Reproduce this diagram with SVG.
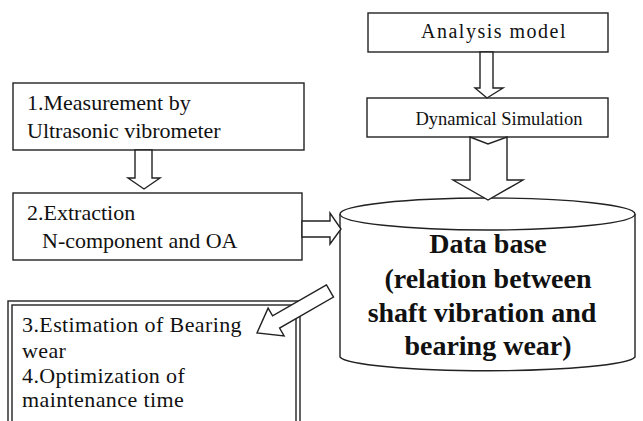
<svg xmlns="http://www.w3.org/2000/svg" width="643" height="421" viewBox="0 0 643 421">
  <style>
    .box { fill: #fff; stroke: #222; stroke-width: 1.4; }
    .arrow { fill: #fff; stroke: #222; stroke-width: 1.4; stroke-linejoin: miter; }
    .t { font-family: "Liberation Serif", "DejaVu Serif", serif; fill: #111; }
    .t22 { font-size: 22px; }
    .big { font-size: 28px; font-weight: bold; text-anchor: middle; }
  </style>
  <rect width="643" height="421" fill="#fff"/>

  <!-- step 1 -->
  <g id="measurement">
    <rect class="box" x="13" y="83" width="291" height="67"/>
    <text class="t t22" x="27" y="110">1.Measurement by</text>
    <text class="t t22" x="27" y="138">Ultrasonic vibrometer</text>
  </g>

  <!-- step 2 -->
  <g id="extraction">
    <rect class="box" x="13" y="193" width="289" height="67"/>
    <text class="t t22" x="27" y="220">2.Extraction</text>
    <text class="t t22" x="42" y="248">N-component and OA</text>
  </g>

  <!-- analysis model -->
  <g id="analysis-model">
    <rect class="box" x="368" y="13" width="240" height="39"/>
    <text class="t" font-size="20" letter-spacing="1.5" x="494" y="38" text-anchor="middle">Analysis model</text>
  </g>

  <!-- dynamical simulation -->
  <g id="dynamical-simulation">
    <rect class="box" x="367" y="98" width="241" height="39"/>
    <text class="t" font-size="18.5" x="499" y="125" text-anchor="middle">Dynamical Simulation</text>
  </g>

  <!-- database cylinder -->
  <g id="database">
    <path class="box" d="M340,214 L340,357 A148,15 0 0 0 635,357 L635,214"/>
    <ellipse class="box" cx="487.5" cy="214" rx="147.5" ry="16"/>
    <text class="t big" x="488" y="253">Data base</text>
    <text class="t big" x="488" y="288">(relation between</text>
    <text class="t big" x="482" y="322">shaft vibration and</text>
    <text class="t big" x="488" y="355">bearing wear)</text>
  </g>

  <!-- steps 3 and 4 -->
  <g id="estimation">
    <rect class="box" x="8" y="301" width="292" height="130"/>
    <rect fill="none" stroke="#222" stroke-width="1.4" x="12" y="305" width="284" height="130"/>
    <text class="t t22" x="22" y="332" letter-spacing="0.4">3.Estimation of Bearing</text>
    <text class="t t22" x="22" y="358" letter-spacing="0.4">wear</text>
    <text class="t t22" x="22" y="383" letter-spacing="0.4">4.Optimization of</text>
    <text class="t t22" x="22" y="407" letter-spacing="0.4">maintenance time</text>
  </g>

  <!-- block arrows -->
  <g id="connectors">
    <polygon class="arrow" points="135,150 152,150 152,178 160,178 144,189 128,178 135,178"/>
    <polygon class="arrow" points="480,52 493,52 493,88 503,88 487,98 475,88 480,88"/>
    <polygon class="arrow" points="470,137 488,144 507,137 507,180 523,180 488,200 453,180 470,180"/>
    <polygon class="arrow" points="302,221 330,221 330,213 341,229 330,244 330,237 302,237"/>
    <polygon class="arrow" points="326.5,284.9 272.6,315.9 268.1,308.1 257,333 284.1,335.9 279.6,328.1 333.5,297.1"/>
  </g>
</svg>
